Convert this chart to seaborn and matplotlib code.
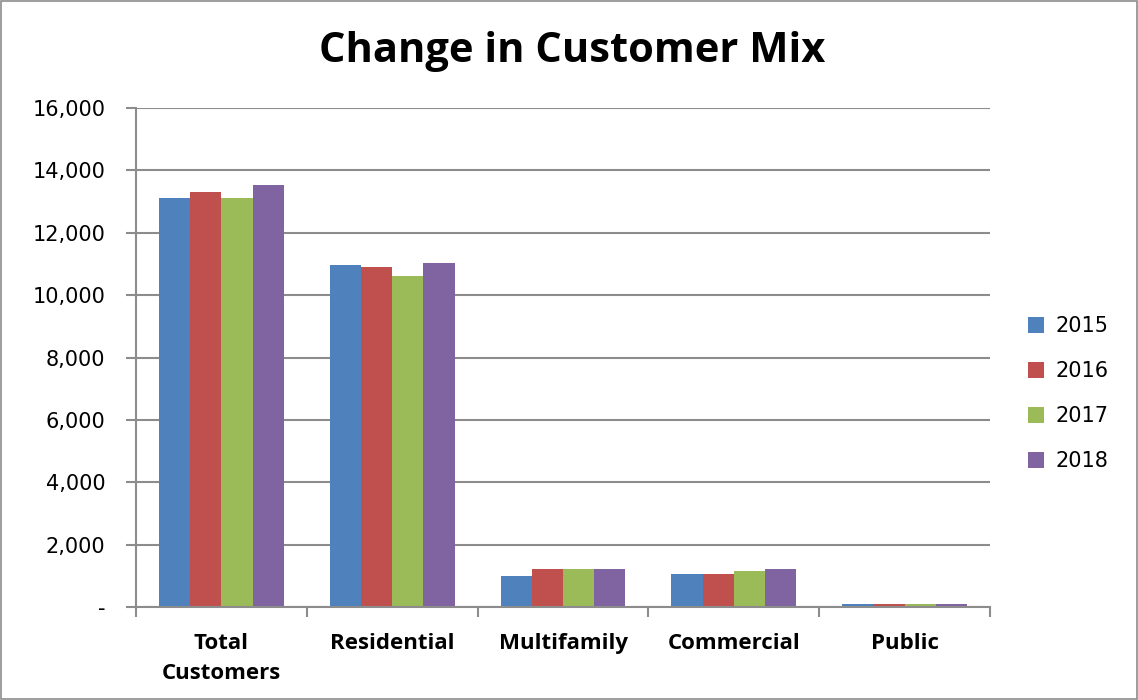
import matplotlib
matplotlib.use("Agg")
import matplotlib.pyplot as plt
from matplotlib.ticker import FuncFormatter, FixedLocator
import seaborn as sns
import pandas as pd

categories = ["Total\nCustomers", "Residential", "Multifamily", "Commercial", "Public"]
years = ["2015", "2016", "2017", "2018"]
v2015 = [13100, 10950, 990, 1050, 90]
v2016 = [13300, 10900, 1220, 1050, 90]
v2017 = [13100, 10600, 1220, 1160, 90]
v2018 = [13530, 11020, 1220, 1220, 90]
colors = ["#4F81BD", "#C0504D", "#9BBB59", "#8064A2"]

rows = []
for yr, vals in zip(years, [v2015, v2016, v2017, v2018]):
    for c, v in zip(categories, vals):
        rows.append({"Category": c, "Year": yr, "Customers": v})
df = pd.DataFrame(rows)

sns.set_theme(style="white")
plt.rcParams['font.family'] = ['DejaVu Sans']
plt.rcParams['text.color'] = 'black'
plt.rcParams['xtick.color'] = 'black'
plt.rcParams['ytick.color'] = 'black'

fig = plt.figure(figsize=(11.38, 7.0), dpi=100)
ax = fig.add_axes([136/1138, 1 - 607/700, (990-136)/1138, (607-108)/700])

sns.barplot(data=df, x="Category", y="Customers", hue="Year", order=categories,
            hue_order=years, palette=colors, width=0.73, gap=0, ax=ax,
            edgecolor="none", linewidth=0, saturation=1, errorbar=None)

ax.set_ylim(0, 16000)
ax.set_xlim(-0.5, 4.5)
ax.set_yticks(range(0, 16001, 2000))
ax.yaxis.set_major_formatter(FuncFormatter(lambda v, p: "-" if v == 0 else f"{int(v):,}"))
ax.grid(axis="y", color="#8C8C8C", linewidth=1.5)
ax.set_axisbelow(True)
for s in ["top", "right"]:
    ax.spines[s].set_visible(False)
for s in ["left", "bottom"]:
    ax.spines[s].set_color("#8C8C8C")
    ax.spines[s].set_linewidth(1.5)
ax.set_xlabel("")
ax.set_ylabel("")
ax.tick_params(axis="y", which="major", length=7, width=1.5, color="#8C8C8C",
               labelcolor="black", direction="out", labelsize=15, pad=15, left=True)
ax.tick_params(axis="x", which="major", length=0, labelsize=16, pad=19,
               labelcolor="black")
ax.xaxis.set_minor_locator(FixedLocator([-0.5, 0.5, 1.5, 2.5, 3.5, 4.5]))
ax.tick_params(axis="x", which="minor", length=7, width=1.5, color="#8C8C8C",
               direction="out", bottom=True)
for lbl in ax.get_xticklabels():
    lbl.set_fontweight("bold")
    lbl.set_fontfamily("Open Sans")
    lbl.set_linespacing(1.55)
    lbl.set_verticalalignment("top")

leg = ax.legend(loc="upper left", bbox_to_anchor=(1.022, 0.62), frameon=False,
                fontsize=15, handlelength=0.8, handleheight=0.8,
                labelspacing=1.2, handletextpad=0.55)

fig.text(572/1138, 1 - 51/700, "Change in Customer Mix", ha="center", va="center",
         fontsize=30, fontweight="bold", family="Open Sans", color="black")

border = plt.Rectangle((0.001, 0.001), 0.998, 0.998, transform=fig.transFigure,
                       fill=False, edgecolor="#8C8C8C", linewidth=1.2)
fig.patches.append(border)

fig.savefig("out.png", dpi=100)
